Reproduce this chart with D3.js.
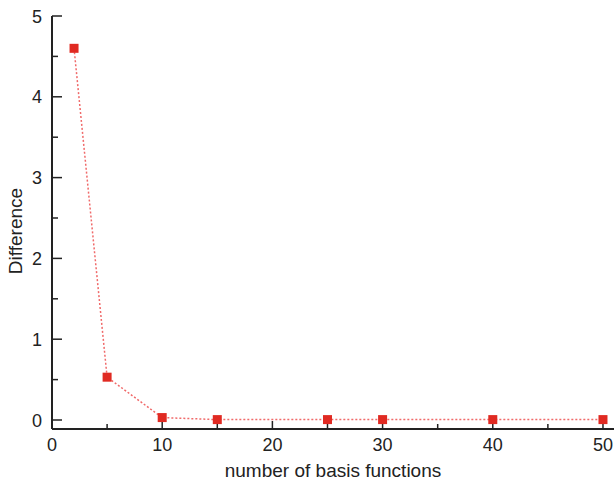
<!DOCTYPE html>
<html>
<head>
<meta charset="utf-8">
<script src="https://cdn.jsdelivr.net/npm/d3@7"></script>
<style>
  body { margin: 0; background: #fff; }
  svg text { font-family: "Liberation Sans", Arial, sans-serif; fill: #222; }
</style>
</head>
<body>
<svg width="614" height="482"></svg>
<script>
document.addEventListener('DOMContentLoaded', function () {
  "use strict";
  var basisCounts = [2, 5, 10, 15, 25, 30, 40, 50];
  var differences = [4.6, 0.53, 0.03, 0.005, 0.005, 0.005, 0.005, 0.005];
  var xTicks = [0, 10, 20, 30, 40, 50];
  var yTicks = [0, 1, 2, 3, 4, 5];

  var svg = d3.select("svg");
  var x = d3.scaleLinear().domain([0, 51]).range([52, 614]);
  var y = d3.scaleLinear().domain([0, 5]).range([420, 16]);
  var yBottom = 429;

  // minor ticks
  var xMinor = d3.range(5, 51, 10);
  var yMinor = d3.range(0.5, 5, 1);

  var g = svg.append("g");

  g.selectAll(".xmaj").data(xTicks).enter().append("line")
    .attr("x1", x).attr("x2", x)
    .attr("y1", yBottom).attr("y2", yBottom - 8)
    .attr("stroke", "#222").attr("stroke-width", 1.5);
  g.selectAll(".xmin").data(xMinor).enter().append("line")
    .attr("x1", x).attr("x2", x)
    .attr("y1", yBottom).attr("y2", yBottom - 5)
    .attr("stroke", "#222").attr("stroke-width", 1.5);
  g.selectAll(".ymaj").data(yTicks).enter().append("line")
    .attr("x1", 52).attr("x2", 62)
    .attr("y1", y).attr("y2", y)
    .attr("stroke", "#222").attr("stroke-width", 1.5);
  g.selectAll(".ymin").data(yMinor).enter().append("line")
    .attr("x1", 52).attr("x2", 58)
    .attr("y1", y).attr("y2", y)
    .attr("stroke", "#222").attr("stroke-width", 1.5);

  // axis lines
  g.append("line").attr("x1", 52).attr("x2", 614)
    .attr("y1", yBottom).attr("y2", yBottom)
    .attr("stroke", "#222").attr("stroke-width", 2);
  g.append("line").attr("x1", 52).attr("x2", 52)
    .attr("y1", y(5)).attr("y2", yBottom)
    .attr("stroke", "#222").attr("stroke-width", 2);

  // tick labels
  g.selectAll(".xl").data(xTicks).enter().append("text")
    .attr("x", x).attr("y", 451)
    .attr("text-anchor", "middle").attr("font-size", 18)
    .text(function (d) { return d; });
  g.selectAll(".yl").data(yTicks).enter().append("text")
    .attr("x", 42).attr("y", function (d) { return y(d) + 6.5; })
    .attr("text-anchor", "end").attr("font-size", 18)
    .text(function (d) { return d; });

  // axis titles
  svg.append("text").attr("x", 333).attr("y", 477)
    .attr("text-anchor", "middle").attr("font-size", 19)
    .text("number of basis functions");
  svg.append("text")
    .attr("transform", "translate(22,231) rotate(-90)")
    .attr("text-anchor", "middle").attr("font-size", 19)
    .text("Difference");

  var pts = basisCounts.map(function (d, i) { return [d, differences[i]]; });

  svg.append("path")
    .datum(pts)
    .attr("d", d3.line().x(function (d) { return x(d[0]); }).y(function (d) { return y(d[1]); }))
    .attr("fill", "none")
    .attr("stroke", "#f06a6a")
    .attr("stroke-width", 1.5)
    .attr("stroke-dasharray", "2,2");

  svg.selectAll(".pt").data(pts).enter().append("rect")
    .attr("x", function (d) { return x(d[0]) - 4.5; })
    .attr("y", function (d) { return y(d[1]) - 4.5; })
    .attr("width", 9).attr("height", 9)
    .attr("fill", "#e02a22");
}, false);
</script>
</body>
</html>
